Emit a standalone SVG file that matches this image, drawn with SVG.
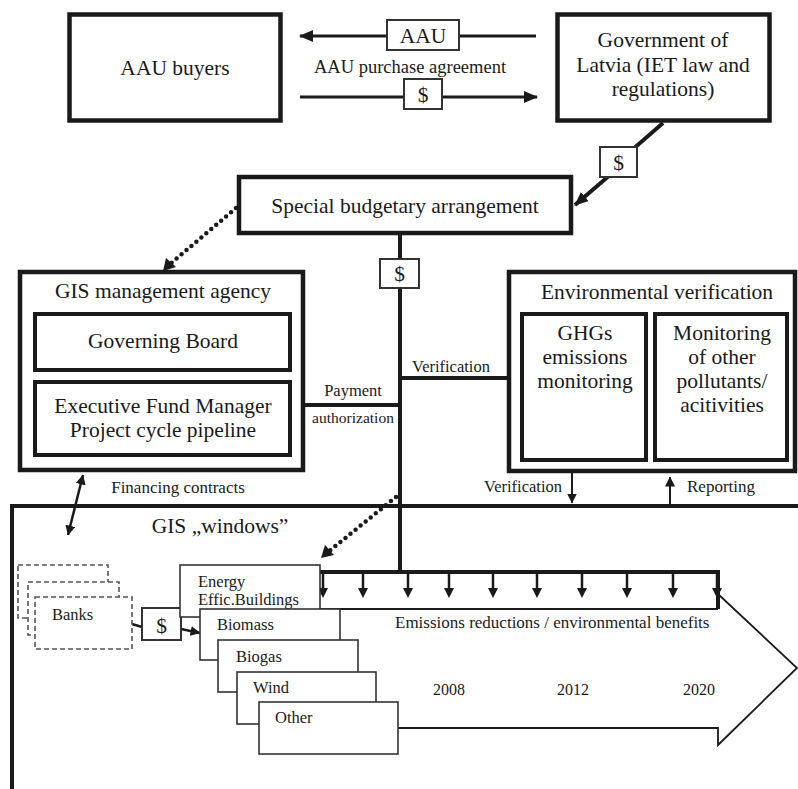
<svg xmlns="http://www.w3.org/2000/svg" width="798" height="789" viewBox="0 0 798 789">
<style>
text{font-family:"Liberation Serif","Times New Roman",serif;fill:#1a1a1a}
.big{font-size:21.5px;text-anchor:middle}
.mid{font-size:17px}
.sm{font-size:16.5px}
.thick{fill:#fff;stroke:#1a1a1a;stroke-width:4.5}
.inner{fill:#fff;stroke:#1a1a1a;stroke-width:4}
.tag{fill:#fff;stroke:#333;stroke-width:2}
.win{fill:#fff;stroke:#333;stroke-width:1.6}
.bank{fill:#fff;stroke:#555;stroke-width:1.6;stroke-dasharray:5 3}
.ln{fill:none;stroke:#1a1a1a}
.dot{fill:none;stroke:#1a1a1a;stroke-width:4.5;stroke-dasharray:0 6.5;stroke-linecap:round}
</style>
<defs>
<marker id="ah" markerUnits="userSpaceOnUse" markerWidth="14" markerHeight="12" viewBox="0 0 14 12" refX="13" refY="6" orient="auto-start-reverse"><path d="M0,0 L14,6 L0,12 z" fill="#1a1a1a"/></marker>
<marker id="as" markerUnits="userSpaceOnUse" markerWidth="10" markerHeight="10" viewBox="0 0 10 10" refX="9.5" refY="5" orient="auto-start-reverse"><path d="M0,0 L10,5 L0,10 z" fill="#1a1a1a"/></marker>
</defs>
<rect width="798" height="789" fill="#fff"/>

<g id="connectors">
<!-- AAU flows -->
<line class="ln" x1="536" y1="36" x2="300" y2="36" stroke-width="3" marker-end="url(#ah)"/>
<line class="ln" x1="300" y1="97" x2="537" y2="97" stroke-width="3" marker-end="url(#ah)"/>
<!-- Government to special budgetary -->
<line class="ln" x1="663" y1="123" x2="632" y2="150" stroke-width="4"/>
<line class="ln" x1="610" y1="175" x2="575" y2="205" stroke-width="4" marker-end="url(#ah)"/>
<!-- dotted to GIS mgmt -->
<line class="dot" x1="236" y1="208" x2="169" y2="265"/>
<path d="M163,271 L166,258 L176,267 z" fill="#1a1a1a"/>
<!-- main trunk -->
<line class="ln" x1="400" y1="235" x2="400" y2="574" stroke-width="4"/>
<line class="ln" x1="305" y1="405" x2="400" y2="405" stroke-width="4"/>
<line class="ln" x1="400" y1="378" x2="507" y2="378" stroke-width="4"/>
<!-- verification / reporting -->
<line class="ln" x1="572" y1="473" x2="572" y2="503" stroke-width="2" marker-end="url(#as)"/>
<line class="ln" x1="670" y1="506" x2="670" y2="477" stroke-width="2" marker-end="url(#as)"/>
<!-- financing contracts -->
<line class="ln" x1="83" y1="475" x2="68" y2="535" stroke-width="2.5" marker-start="url(#as)" marker-end="url(#as)"/>
<!-- dotted to windows -->
<line class="dot" x1="396" y1="497" x2="328" y2="552"/>
<path d="M321,558 L325,545 L334,555 z" fill="#1a1a1a"/>
<!-- distribution bar -->
<path class="ln" d="M320,572 H718 V609" stroke-width="4"/>
<g stroke="#1a1a1a" stroke-width="2.5">
<line x1="323" y1="572" x2="323" y2="590"/><line x1="363" y1="572" x2="363" y2="590"/>
<line x1="408" y1="572" x2="408" y2="590"/><line x1="449" y1="572" x2="449" y2="590"/>
<line x1="493" y1="572" x2="493" y2="590"/><line x1="537" y1="572" x2="537" y2="590"/>
<line x1="582" y1="572" x2="582" y2="590"/><line x1="627" y1="572" x2="627" y2="590"/>
<line x1="673" y1="572" x2="673" y2="590"/><line x1="717" y1="572" x2="717" y2="590"/>
</g>
<g fill="#1a1a1a">
<path d="M318,588 h10 l-5,10 z"/><path d="M358,588 h10 l-5,10 z"/>
<path d="M403,588 h10 l-5,10 z"/><path d="M444,588 h10 l-5,10 z"/>
<path d="M488,588 h10 l-5,10 z"/><path d="M532,588 h10 l-5,10 z"/>
<path d="M577,588 h10 l-5,10 z"/><path d="M622,588 h10 l-5,10 z"/>
<path d="M668,588 h10 l-5,10 z"/><path d="M712,588 h10 l-5,10 z"/>
</g>
<!-- big timeline arrow -->
<path class="ln" d="M320,609 H718 M718,594 L797,668 L718,745 V728 H398" stroke-width="1.8"/>
<!-- banks to windows -->
<line class="ln" x1="132" y1="624" x2="142" y2="627" stroke-width="2.5"/>
<line class="ln" x1="181" y1="629" x2="200" y2="633" stroke-width="2.5" marker-end="url(#as)"/>
</g>

<g id="aau-buyers">
<rect class="thick" x="69.5" y="14.5" width="211" height="106"/>
<text class="big" x="175" y="75">AAU buyers</text>
</g>

<g id="government">
<rect class="thick" x="557.5" y="14.5" width="212" height="106"/>
<text class="big" x="663" y="47">Government of</text>
<text class="big" x="663" y="72">Latvia (IET law and</text>
<text class="big" x="663" y="96">regulations)</text>
</g>

<g id="aau-tag">
<rect class="tag" x="387" y="20" width="72" height="30"/>
<text class="big" x="423" y="43">AAU</text>
<text style="font-size:18.5px;text-anchor:middle" x="410" y="73">AAU purchase agreement</text>
</g>

<g id="dollar-tag-1">
<rect class="tag" x="404" y="79" width="38" height="30"/>
<text class="big" x="423" y="102">$</text>
</g>

<g id="dollar-tag-2">
<rect class="tag" x="600" y="147" width="37" height="30"/>
<text class="big" x="618.5" y="170">$</text>
</g>

<g id="special-budgetary">
<rect class="thick" x="239" y="177" width="332" height="56"/>
<text class="big" x="405" y="213">Special budgetary arrangement</text>
</g>

<g id="dollar-tag-3">
<rect class="tag" x="380" y="259" width="39" height="29"/>
<text class="big" x="399.5" y="281">$</text>
</g>

<g id="gis-management">
<rect class="thick" x="20" y="272" width="283" height="198"/>
<text class="big" x="163" y="298">GIS management agency</text>
<g id="governing-board">
<rect class="inner" x="35" y="314" width="255" height="56"/>
<text class="big" x="163" y="348">Governing Board</text>
</g>
<g id="executive-fund">
<rect class="inner" x="35" y="382" width="255" height="73"/>
<text class="big" x="163" y="413">Executive Fund Manager</text>
<text class="big" x="163" y="437">Project cycle pipeline</text>
</g>
</g>

<g id="labels-trunk">
<text class="sm" style="text-anchor:middle" x="353" y="396">Payment</text>
<text style="font-size:15.5px;text-anchor:middle" x="353" y="423">authorization</text>
<text class="sm" style="text-anchor:middle" x="451" y="372">Verification</text>
</g>

<g id="environmental-verification">
<rect class="thick" x="509" y="272" width="286" height="199"/>
<text class="big" x="657" y="299">Environmental verification</text>
<g id="ghg-monitoring">
<rect class="inner" x="522" y="314" width="124" height="146"/>
<text class="big" x="585" y="340">GHGs</text>
<text class="big" x="585" y="364">emissions</text>
<text class="big" x="585" y="388">monitoring</text>
</g>
<g id="other-monitoring">
<rect class="inner" x="655" y="314" width="132" height="146"/>
<text class="big" x="722" y="340">Monitoring</text>
<text class="big" x="722" y="364">of other</text>
<text class="big" x="722" y="388">pollutants/</text>
<text class="big" x="722" y="412">acitivities</text>
</g>
</g>

<g id="env-labels">
<text class="sm" style="text-anchor:end" x="562" y="492">Verification</text>
<text class="mid" x="687" y="492">Reporting</text>
<text class="mid" style="text-anchor:middle" x="178" y="493">Financing contracts</text>
</g>

<g id="gis-windows">
<path class="ln" d="M12,789 V506 H798" stroke-width="4"/>
<text class="big" x="220" y="533">GIS „windows”</text>
</g>

<g id="banks">
<rect class="bank" x="18" y="565" width="90" height="53"/>
<rect class="bank" x="28" y="582" width="91" height="53"/>
<rect class="bank" x="35" y="597" width="97" height="52"/>
<text class="sm" x="52" y="620">Banks</text>
</g>

<g id="dollar-tag-4">
<rect class="tag" x="142" y="608" width="39" height="32"/>
<text class="big" x="161.5" y="633">$</text>
</g>

<g id="window-energy">
<rect class="win" x="180" y="565" width="140" height="52"/>
<text class="sm" x="198" y="587">Energy</text>
<text class="sm" x="198" y="605">Effic.Buildings</text>
</g>
<g id="window-biomass">
<rect class="win" x="200" y="609" width="140" height="51"/>
<text class="sm" x="217" y="630">Biomass</text>
</g>
<g id="window-biogas">
<rect class="win" x="218" y="640" width="140" height="52"/>
<text class="sm" x="236" y="662">Biogas</text>
</g>
<g id="window-wind">
<rect class="win" x="237" y="672" width="139" height="52"/>
<text class="sm" x="253" y="693">Wind</text>
</g>
<g id="window-other">
<rect class="win" x="259" y="702" width="139" height="52"/>
<text class="sm" x="275" y="723">Other</text>
</g>

<g id="timeline">
<text class="mid" x="395" y="628">Emissions reductions / environmental benefits</text>
<text style="font-size:16px;text-anchor:middle" x="449" y="695">2008</text>
<text style="font-size:16px;text-anchor:middle" x="573" y="695">2012</text>
<text style="font-size:16px;text-anchor:middle" x="699" y="695">2020</text>
</g>
</svg>
